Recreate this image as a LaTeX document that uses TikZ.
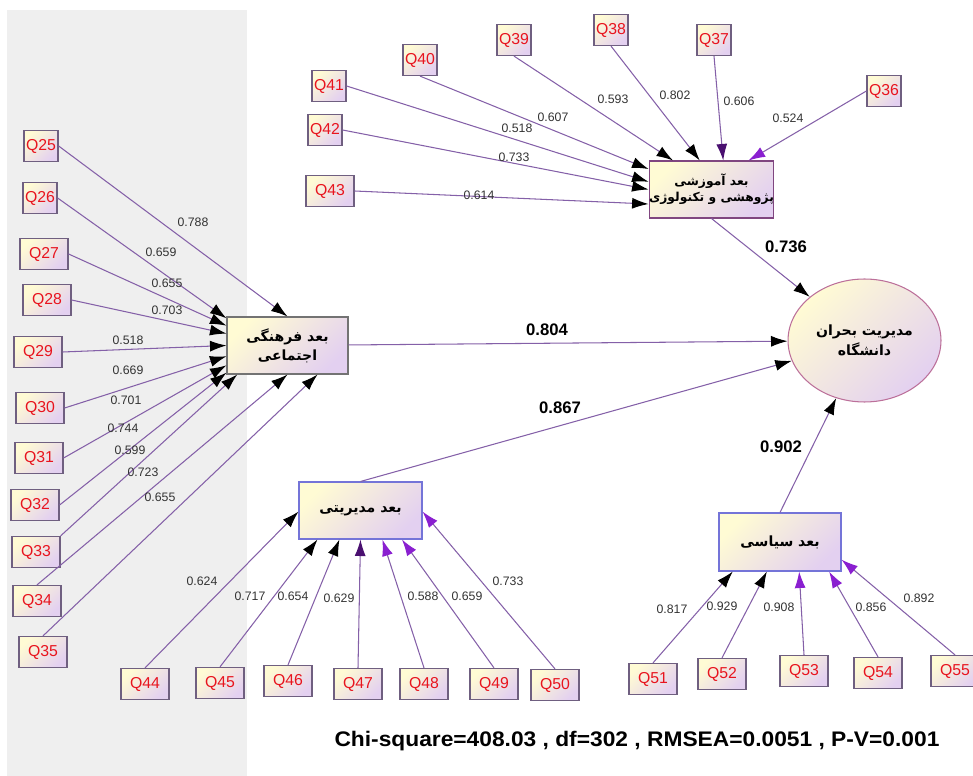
\documentclass[tikz,border=0pt]{standalone}
\usepackage{fontspec}
\setmainfont{Liberation Sans}
\newfontfamily\farsi[Script=Arabic]{DejaVu Sans}
\TeXXeTstate=1
\usetikzlibrary{arrows.meta,shapes.geometric}
\definecolor{panel}{HTML}{EFEFEF}
\definecolor{cream}{HTML}{FFFBD4}
\definecolor{lilac}{HTML}{E3D0F0}
\definecolor{linkc}{HTML}{8460A8}
\definecolor{tipv}{HTML}{8A1FD0}
\definecolor{tipd}{HTML}{4A1070}
\definecolor{qred}{HTML}{E8141E}
\definecolor{indc}{HTML}{6F5F80}
\definecolor{latc}{HTML}{7474D8}
\tikzset{
  ind/.style={draw=indc, line width=0.7pt, left color=cream, right color=lilac, shading angle=45,
    minimum width=0.96cm, minimum height=0.62cm, inner sep=0pt, text=qred, font=\fontsize{9}{10}\selectfont},
  indn/.style={ind, minimum width=0.68cm},
  latent/.style={line width=0.6pt, left color=cream, right color=lilac, shading angle=45,
    minimum width=2.42cm, minimum height=1.14cm, inner sep=0pt, align=center,
    font=\farsi\bfseries\fontsize{8}{11}\selectfont},
  load/.style={draw=linkc, line width=0.6pt, -{Latex[length=3.3mm,width=2.2mm,color=black]}},
  loadv/.style={load, -{Latex[length=3.3mm,width=2.2mm,color=tipv]}},
  loadd/.style={load, -{Latex[length=3.3mm,width=2.2mm,color=tipd]}},
  lab/.style={font=\fontsize{7}{8}\selectfont, text=black!80, inner sep=1pt},
  plab/.style={font=\bfseries\fontsize{9.5}{10}\selectfont, inner sep=1pt}
}
\begin{document}
\begin{tikzpicture}[x=0.02cm, y=-0.02cm]

	\useasboundingbox (0,0) rectangle (973,776);
	\fill[panel] (7,10) rectangle (247,776);

	\node[latent, draw=black!55] (cult) at (287.5,345.5) {\beginR بعد فرهنگی\endR\\\beginR اجتماعی\endR};
	\node[latent, draw=violet!45!gray, font=\farsi\bfseries\fontsize{7}{9}\selectfont] (edu) at (711.5,189.5) {\beginR بعد آموزشی\endR\\\beginR پژوهشی و تکنولوژی\endR};
	\node[latent, draw=latc, minimum width=2.46cm] (mgmt) at (360.5,510.5) {\beginR بعد مدیریتی\endR};
	\node[latent, draw=latc, minimum width=2.44cm, minimum height=1.16cm] (pol) at (780,542) {\beginR بعد سیاسی\endR};
	\node[latent, ellipse, draw=magenta!60!black!70, minimum width=3.06cm, minimum height=2.46cm] (crisis) at (864.5,340.5) {\beginR مدیریت بحران\endR\\\beginR دانشگاه\endR};

	\node[indn] (q25) at (41,146) {Q25};
	\node[indn] (q26) at (40,198) {Q26};
	\node[ind] (q27) at (44,254) {Q27};
	\node[ind] (q28) at (47,300) {Q28};
	\node[ind] (q29) at (38,352) {Q29};
	\node[ind] (q30) at (40,408) {Q30};
	\node[ind] (q31) at (39,458) {Q31};
	\node[ind] (q32) at (35,505) {Q32};
	\node[ind] (q33) at (36,552) {Q33};
	\node[ind] (q34) at (37,601) {Q34};
	\node[ind] (q35) at (43,652) {Q35};

	\node[indn] (q36) at (884,91) {Q36};
	\node[indn] (q37) at (714,40) {Q37};
	\node[indn] (q38) at (611,30) {Q38};
	\node[indn] (q39) at (514,40) {Q39};
	\node[indn] (q40) at (420,60) {Q40};
	\node[indn] (q41) at (329,86) {Q41};
	\node[indn] (q42) at (325,130) {Q42};
	\node[ind] (q43) at (330,191) {Q43};

	\node[ind] (q44) at (145,684) {Q44};
	\node[ind] (q45) at (220,683) {Q45};
	\node[ind] (q46) at (288,681) {Q46};
	\node[ind] (q47) at (358,684) {Q47};
	\node[ind] (q48) at (424,684) {Q48};
	\node[ind] (q49) at (494,684) {Q49};
	\node[ind] (q50) at (555,685) {Q50};

	\node[ind] (q51) at (653,679) {Q51};
	\node[ind] (q52) at (722,674) {Q52};
	\node[ind] (q53) at (804,671) {Q53};
	\node[ind] (q54) at (878,673) {Q54};
	\node[ind] (q55) at (955,671) {Q55};

	\draw[load] (q25.east) -- (cult.90);
	\draw[load] (q26.east) -- (cult.156);
	\draw[load] (q27.east) -- (cult.162);
	\draw[load] (q28.east) -- (cult.169);
	\draw[load] (q29.east) -- (cult.180);
	\draw[load] (q30.east) -- (cult.190);
	\draw[load] (q31.east) -- (cult.198);
	\draw[load] (q32.east) -- (cult.204);
	\draw[load] (q33.north east) -- (cult.210);
	\draw[load] (q34.north) -- (cult.270);
	\draw[load] (q35.north) -- (cult.316);

	\draw[loadv] (q36.west) -- (edu.38);
	\draw[loadd] (q37.south) -- (edu.68);
	\draw[load] (q38.south) -- (edu.112);
	\draw[load] (q39.south) -- (edu.143);
	\draw[load] (q40.south) -- (edu.162);
	\draw[load] (q41.east) -- (edu.173);
	\draw[load] (q42.east) -- (edu.180);
	\draw[load] (q43.east) -- (edu.193);

	\draw[load] (q44.north) -- (mgmt.181);
	\draw[load] (q45.north) -- (mgmt.214);
	\draw[load] (q46.north) -- (mgmt.234);
	\draw[loadd] (q47.north) -- (mgmt.270);
	\draw[loadv] (q48.north) -- (mgmt.307);
	\draw[loadv] (q49.north) -- (mgmt.325);
	\draw[loadv] (q50.north) -- (mgmt.359);

	\draw[load] (q51.north) -- (pol.212);
	\draw[load] (q52.north) -- (pol.246);
	\draw[loadv] (q53.north) -- (pol.303);
	\draw[loadv] (q54.north) -- (pol.329);
	\draw[loadv] (q55.north) -- (pol.344);

	\draw[load] (cult) -- (crisis);
	\draw[load] (edu.south) -- (crisis);
	\draw[load] (mgmt.north) -- (crisis);
	\draw[load] (pol.north) -- (crisis);

	\node[lab] (l25) at (193,222) {0.788};
	\node[lab] (l26) at (161,252) {0.659};
	\node[lab] (l27) at (167,283) {0.655};
	\node[lab] (l28) at (167,310) {0.703};
	\node[lab] (l29) at (128,340) {0.518};
	\node[lab] (l30) at (128,370) {0.669};
	\node[lab] (l31) at (126,400) {0.701};
	\node[lab] (l32) at (123,428) {0.744};
	\node[lab] (l33) at (130,450) {0.599};
	\node[lab] (l34) at (143,472) {0.723};
	\node[lab] (l35) at (160,497) {0.655};

	\node[lab] (l36) at (788,118) {0.524};
	\node[lab] (l37) at (739,101) {0.606};
	\node[lab] (l38) at (675,95) {0.802};
	\node[lab] (l39) at (613,99) {0.593};
	\node[lab] (l40) at (553,117) {0.607};
	\node[lab] (l41) at (517,128) {0.518};
	\node[lab] (l42) at (514,157) {0.733};
	\node[lab] (l43) at (479,195) {0.614};

	\node[lab] (l44) at (202,581) {0.624};
	\node[lab] (l45) at (250,596) {0.717};
	\node[lab] (l46) at (293,596) {0.654};
	\node[lab] (l47) at (339,598) {0.629};
	\node[lab] (l48) at (423,596) {0.588};
	\node[lab] (l49) at (467,596) {0.659};
	\node[lab] (l50) at (508,581) {0.733};

	\node[lab] (l51) at (672,609) {0.817};
	\node[lab] (l52) at (722,606) {0.929};
	\node[lab] (l53) at (779,607) {0.908};
	\node[lab] (l54) at (871,607) {0.856};
	\node[lab] (l55) at (919,598) {0.892};

	\node[plab] (pcult) at (547,330) {0.804};
	\node[plab] (pedu) at (786,247) {0.736};
	\node[plab] (pmgmt) at (560,408) {0.867};
	\node[plab] (ppol) at (781,447) {0.902};

	\node[font=\bfseries\fontsize{12}{14}\selectfont] (fit) at (637,741) {\scalebox{1.08}[1]{Chi-square=408.03 , df=302 , RMSEA=0.0051 , P-V=0.001}};

\end{tikzpicture}
\end{document}
